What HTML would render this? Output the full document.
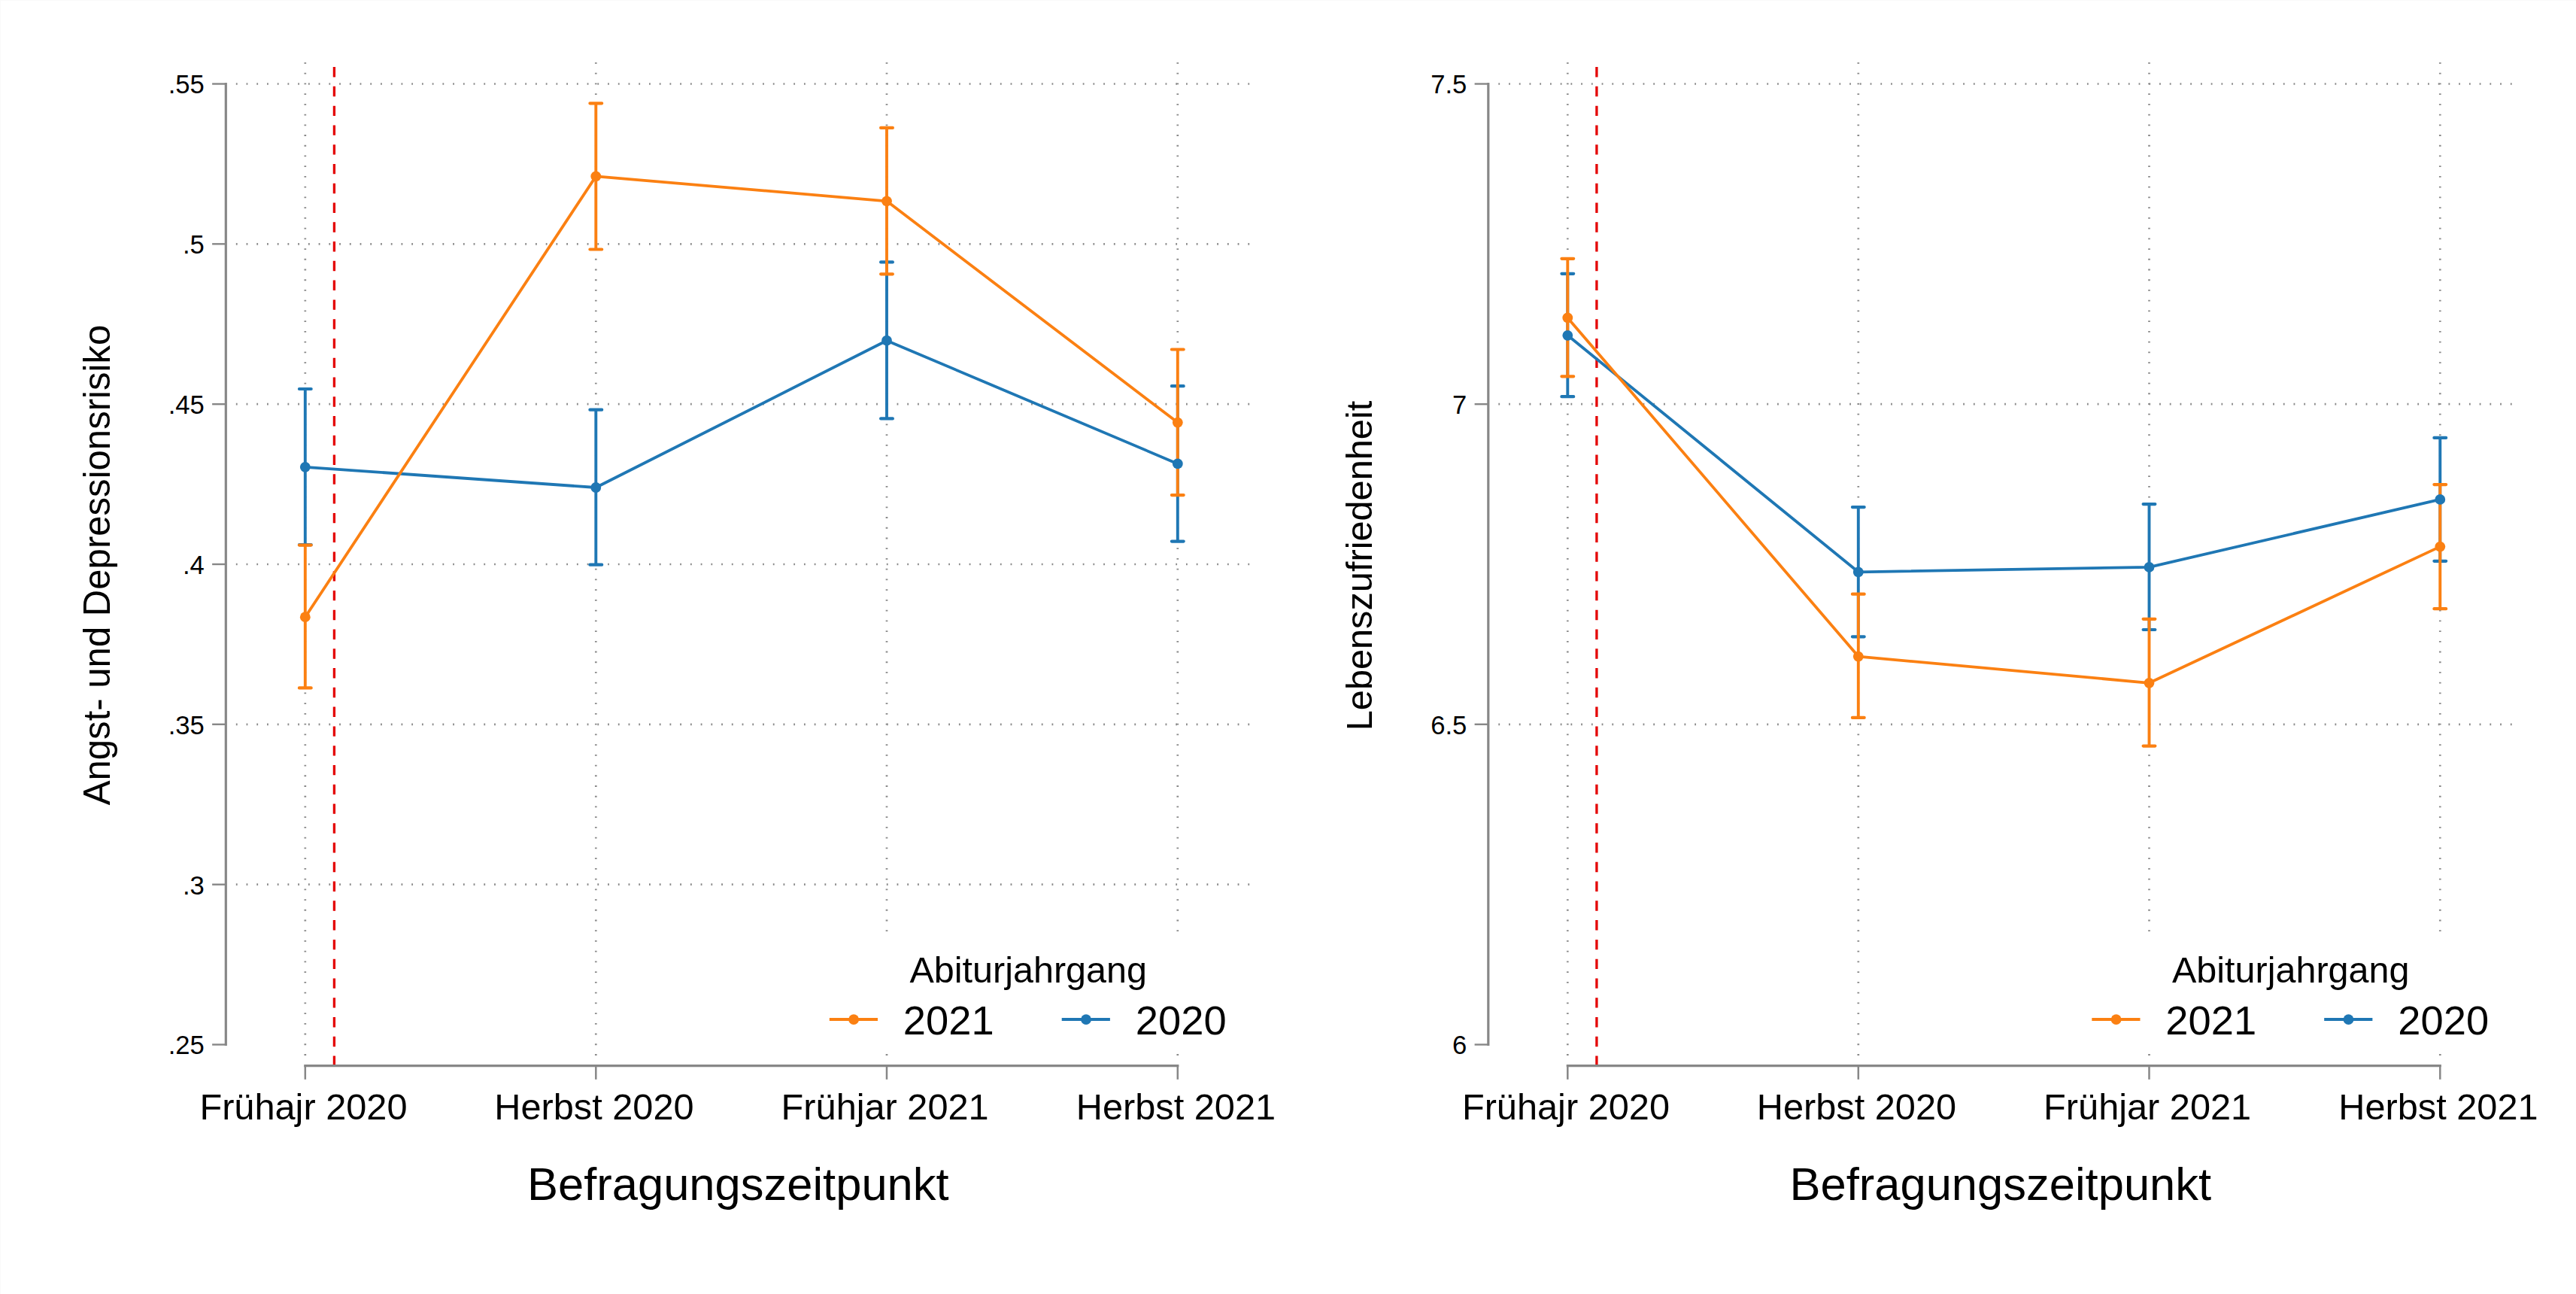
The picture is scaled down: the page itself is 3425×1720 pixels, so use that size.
<!DOCTYPE html>
<html lang="de">
<head>
<meta charset="utf-8">
<title>Befragungszeitpunkt – Abiturjahrgang</title>
<style>
html,body{margin:0;padding:0;background:#fff;}
body{width:3425px;height:1720px;overflow:hidden;}
svg{display:block;font-family:"Liberation Sans",Arial,Helvetica,sans-serif;fill:#000;}
</style>
</head>
<body>
<svg width="3425" height="1720" viewBox="0 0 3425 1720">
<rect width="3425" height="1720" fill="#fff"/>
<path d="M0 0.5H3425M0.5 0V1720" stroke="#fafafa" stroke-width="1" fill="none"/>
<g transform="translate(0,0)">
<g stroke="#8a8a8a" stroke-width="2.7" stroke-dasharray="1.8 11.93" fill="none">
<line x1="313.83" y1="111.5" x2="1662" y2="111.5"/>
<line x1="313.83" y1="324.3" x2="1662" y2="324.3"/>
<line x1="313.83" y1="537.2" x2="1662" y2="537.2"/>
<line x1="313.83" y1="750.0" x2="1662" y2="750.0"/>
<line x1="313.83" y1="962.8" x2="1662" y2="962.8"/>
<line x1="313.83" y1="1175.7" x2="1662" y2="1175.7"/>
<line x1="405.8" y1="83" x2="405.8" y2="1404"/>
<line x1="792.3" y1="83" x2="792.3" y2="1404"/>
<line x1="1179.0" y1="83" x2="1179.0" y2="1404"/>
<line x1="1565.8" y1="83" x2="1565.8" y2="1404"/>
</g>
<rect x="1085" y="1244" width="570" height="151" fill="#fff"/>
<line x1="444.4" y1="89.1" x2="444.4" y2="1416" stroke="#e40000" stroke-width="3.3" stroke-dasharray="13.4 12.373"/>
<g stroke="#1f77b4" stroke-width="4.2" stroke-linecap="round" fill="none">
<path d="M405.8 517.0V724.2" stroke-width="3.9" stroke-linecap="butt"/><path d="M397.9 517.0H413.7M397.9 724.2H413.7"/>
<path d="M792.3 544.7V750.7" stroke-width="3.9" stroke-linecap="butt"/><path d="M784.4 544.7H800.2M784.4 750.7H800.2"/>
<path d="M1179.0 348.4V556.4" stroke-width="3.9" stroke-linecap="butt"/><path d="M1171.1 348.4H1186.9M1171.1 556.4H1186.9"/>
<path d="M1565.8 513.2V719.6" stroke-width="3.9" stroke-linecap="butt"/><path d="M1557.9 513.2H1573.7M1557.9 719.6H1573.7"/>
</g>
<g stroke="#fb8012" stroke-width="4.2" stroke-linecap="round" fill="none">
<path d="M405.8 724.6V914.4" stroke-width="3.9" stroke-linecap="butt"/><path d="M397.9 724.6H413.7M397.9 914.4H413.7"/>
<path d="M792.3 137.3V331.5" stroke-width="3.9" stroke-linecap="butt"/><path d="M784.4 137.3H800.2M784.4 331.5H800.2"/>
<path d="M1179.0 169.9V364.3" stroke-width="3.9" stroke-linecap="butt"/><path d="M1171.1 169.9H1186.9M1171.1 364.3H1186.9"/>
<path d="M1565.8 464.5V658.1" stroke-width="3.9" stroke-linecap="butt"/><path d="M1557.9 464.5H1573.7M1557.9 658.1H1573.7"/>
</g>
<polyline points="405.8,620.8 792.3,648.0 1179.0,452.7 1565.8,616.4" stroke="#1f77b4" stroke-width="3.8" fill="none" stroke-linejoin="round"/>
<circle cx="405.8" cy="620.8" r="6.9" fill="#1f77b4"/>
<circle cx="792.3" cy="648.0" r="6.9" fill="#1f77b4"/>
<circle cx="1179.0" cy="452.7" r="6.9" fill="#1f77b4"/>
<circle cx="1565.8" cy="616.4" r="6.9" fill="#1f77b4"/>
<polyline points="405.8,820.2 792.3,234.4 1179.0,267.3 1565.8,561.6" stroke="#fb8012" stroke-width="3.8" fill="none" stroke-linejoin="round"/>
<circle cx="405.8" cy="820.2" r="6.9" fill="#fb8012"/>
<circle cx="792.3" cy="234.4" r="6.9" fill="#fb8012"/>
<circle cx="1179.0" cy="267.3" r="6.9" fill="#fb8012"/>
<circle cx="1565.8" cy="561.6" r="6.9" fill="#fb8012"/>
<g stroke="#878787" stroke-width="3.2" fill="none">
<path d="M300.3 109.9V1390.1"/>
<path d="M282.1 111.5H300.3" stroke-width="2.4"/>
<path d="M282.1 324.3H300.3" stroke-width="2.4"/>
<path d="M282.1 537.2H300.3" stroke-width="2.4"/>
<path d="M282.1 750.0H300.3" stroke-width="2.4"/>
<path d="M282.1 962.8H300.3" stroke-width="2.4"/>
<path d="M282.1 1175.7H300.3" stroke-width="2.4"/>
<path d="M282.1 1388.5H300.3" stroke-width="2.4"/>
<path d="M404.2 1416.7H1567.4"/>
<path d="M405.8 1416.7V1434.8" stroke-width="2.5"/>
<path d="M792.3 1416.7V1434.8" stroke-width="2.5"/>
<path d="M1179.0 1416.7V1434.8" stroke-width="2.5"/>
<path d="M1565.8 1416.7V1434.8" stroke-width="2.5"/>
</g>
<g font-size="34.6" text-anchor="end">
<text x="271.8" y="124.4">.55</text>
<text x="271.8" y="337.2">.5</text>
<text x="271.8" y="550.1">.45</text>
<text x="271.8" y="762.9">.4</text>
<text x="271.8" y="975.7">.35</text>
<text x="271.8" y="1188.6">.3</text>
<text x="271.8" y="1401.4">.25</text>
</g>
<g font-size="48.7" text-anchor="middle">
<text x="403.45" y="1488">Frühajr 2020</text>
<text x="789.95" y="1488">Herbst 2020</text>
<text x="1176.65" y="1488">Frühjar 2021</text>
<text x="1563.45" y="1488">Herbst 2021</text>
</g>
<text x="981.3" y="1594.8" font-size="61.5" text-anchor="middle">Befragungszeitpunkt</text>
<text transform="translate(146,751) rotate(-90)" font-size="49.1" text-anchor="middle">Angst- und Depressionsrisiko</text>
<text x="1209.5" y="1305.9" font-size="48.5">Abiturjahrgang</text>
<g font-size="54.3"><text x="1200.8" y="1375.4">2021</text><text x="1509.8" y="1375.4">2020</text></g>
<path d="M1102.8 1355H1167" stroke="#fb8012" stroke-width="4.1"/>
<circle cx="1135.1" cy="1355.2" r="6.9" fill="#fb8012"/>
<path d="M1411.7 1355H1475.9" stroke="#1f77b4" stroke-width="4.1"/>
<circle cx="1444" cy="1355.2" r="6.9" fill="#1f77b4"/>
</g>
<g transform="translate(1678.5,0)">
<g stroke="#8a8a8a" stroke-width="2.7" stroke-dasharray="1.8 11.93" fill="none">
<line x1="313.83" y1="111.5" x2="1662" y2="111.5"/>
<line x1="313.83" y1="537.2" x2="1662" y2="537.2"/>
<line x1="313.83" y1="962.8" x2="1662" y2="962.8"/>
<line x1="405.8" y1="83" x2="405.8" y2="1404"/>
<line x1="792.3" y1="83" x2="792.3" y2="1404"/>
<line x1="1179.0" y1="83" x2="1179.0" y2="1404"/>
<line x1="1565.8" y1="83" x2="1565.8" y2="1404"/>
</g>
<rect x="1085" y="1244" width="570" height="151" fill="#fff"/>
<line x1="444.4" y1="89.1" x2="444.4" y2="1416" stroke="#e40000" stroke-width="3.3" stroke-dasharray="13.4 12.373"/>
<g stroke="#1f77b4" stroke-width="4.2" stroke-linecap="round" fill="none">
<path d="M405.8 363.8V527.2" stroke-width="3.9" stroke-linecap="butt"/><path d="M397.9 363.8H413.7M397.9 527.2H413.7"/>
<path d="M792.3 674.1V846.3" stroke-width="3.9" stroke-linecap="butt"/><path d="M784.4 674.1H800.2M784.4 846.3H800.2"/>
<path d="M1179.0 670.1V837.0" stroke-width="3.9" stroke-linecap="butt"/><path d="M1171.1 670.1H1186.9M1171.1 837.0H1186.9"/>
<path d="M1565.8 581.9V745.8" stroke-width="3.9" stroke-linecap="butt"/><path d="M1557.9 581.9H1573.7M1557.9 745.8H1573.7"/>
</g>
<g stroke="#fb8012" stroke-width="4.2" stroke-linecap="round" fill="none">
<path d="M405.8 343.8V500.3" stroke-width="3.9" stroke-linecap="butt"/><path d="M397.9 343.8H413.7M397.9 500.3H413.7"/>
<path d="M792.3 789.7V953.9" stroke-width="3.9" stroke-linecap="butt"/><path d="M784.4 789.7H800.2M784.4 953.9H800.2"/>
<path d="M1179.0 822.8V991.6" stroke-width="3.9" stroke-linecap="butt"/><path d="M1171.1 822.8H1186.9M1171.1 991.6H1186.9"/>
<path d="M1565.8 644.1V809.2" stroke-width="3.9" stroke-linecap="butt"/><path d="M1557.9 644.1H1573.7M1557.9 809.2H1573.7"/>
</g>
<polyline points="405.8,445.8 792.3,760.3 1179.0,753.9 1565.8,663.9" stroke="#1f77b4" stroke-width="3.8" fill="none" stroke-linejoin="round"/>
<circle cx="405.8" cy="445.8" r="6.9" fill="#1f77b4"/>
<circle cx="792.3" cy="760.3" r="6.9" fill="#1f77b4"/>
<circle cx="1179.0" cy="753.9" r="6.9" fill="#1f77b4"/>
<circle cx="1565.8" cy="663.9" r="6.9" fill="#1f77b4"/>
<polyline points="405.8,422.4 792.3,872.6 1179.0,907.8 1565.8,726.6" stroke="#fb8012" stroke-width="3.8" fill="none" stroke-linejoin="round"/>
<circle cx="405.8" cy="422.4" r="6.9" fill="#fb8012"/>
<circle cx="792.3" cy="872.6" r="6.9" fill="#fb8012"/>
<circle cx="1179.0" cy="907.8" r="6.9" fill="#fb8012"/>
<circle cx="1565.8" cy="726.6" r="6.9" fill="#fb8012"/>
<g stroke="#878787" stroke-width="3.2" fill="none">
<path d="M300.3 109.9V1390.1"/>
<path d="M282.1 111.5H300.3" stroke-width="2.4"/>
<path d="M282.1 537.2H300.3" stroke-width="2.4"/>
<path d="M282.1 962.8H300.3" stroke-width="2.4"/>
<path d="M282.1 1388.5H300.3" stroke-width="2.4"/>
<path d="M404.2 1416.7H1567.4"/>
<path d="M405.8 1416.7V1434.8" stroke-width="2.5"/>
<path d="M792.3 1416.7V1434.8" stroke-width="2.5"/>
<path d="M1179.0 1416.7V1434.8" stroke-width="2.5"/>
<path d="M1565.8 1416.7V1434.8" stroke-width="2.5"/>
</g>
<g font-size="34.6" text-anchor="end">
<text x="271.8" y="124.4">7.5</text>
<text x="271.8" y="550.1">7</text>
<text x="271.8" y="975.7">6.5</text>
<text x="271.8" y="1401.4">6</text>
</g>
<g font-size="48.7" text-anchor="middle">
<text x="403.45" y="1488">Frühajr 2020</text>
<text x="789.95" y="1488">Herbst 2020</text>
<text x="1176.65" y="1488">Frühjar 2021</text>
<text x="1563.45" y="1488">Herbst 2021</text>
</g>
<text x="981.3" y="1594.8" font-size="61.5" text-anchor="middle">Befragungszeitpunkt</text>
<text transform="translate(145.8,752) rotate(-90)" font-size="48.7" text-anchor="middle">Lebenszufriedenheit</text>
<text x="1209.5" y="1305.9" font-size="48.5">Abiturjahrgang</text>
<g font-size="54.3"><text x="1200.8" y="1375.4">2021</text><text x="1509.8" y="1375.4">2020</text></g>
<path d="M1102.8 1355H1167" stroke="#fb8012" stroke-width="4.1"/>
<circle cx="1135.1" cy="1355.2" r="6.9" fill="#fb8012"/>
<path d="M1411.7 1355H1475.9" stroke="#1f77b4" stroke-width="4.1"/>
<circle cx="1444" cy="1355.2" r="6.9" fill="#1f77b4"/>
</g>
</svg>
</body>
</html>
